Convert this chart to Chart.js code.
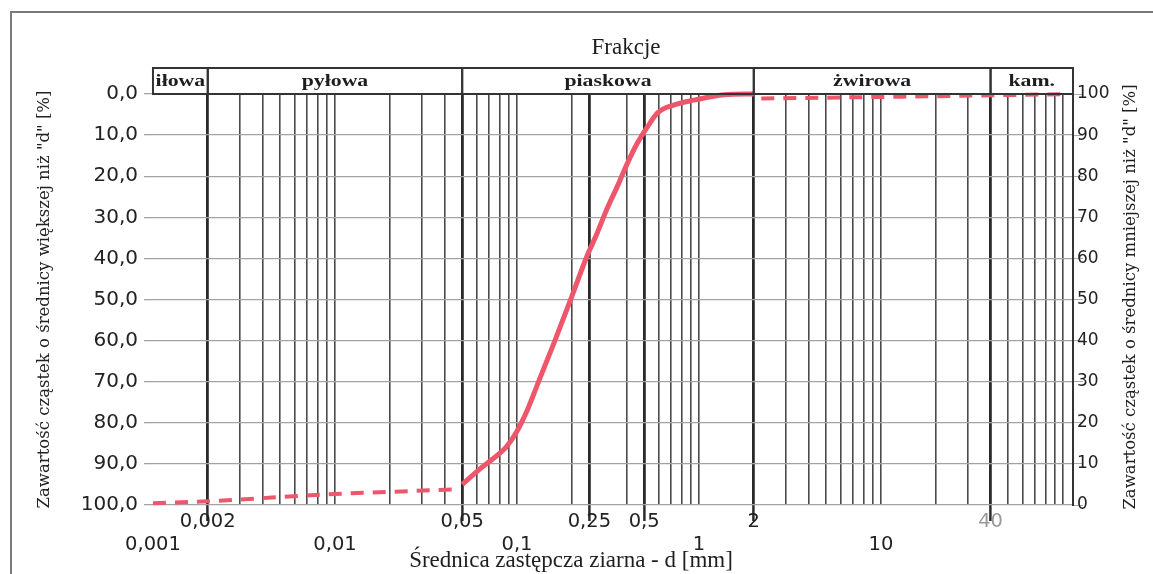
<!DOCTYPE html>
<html lang="pl">
<head>
<meta charset="utf-8">
<title>Krzywa uziarnienia</title>
<script src="https://cdn.jsdelivr.net/npm/chart.js@4.4.1/dist/chart.umd.min.js"></script>
<style>
  html, body { margin: 0; padding: 0; background: #fff; }
  canvas { display: block; }
</style>
</head>
<body>
<canvas id="chart" width="1153" height="574"></canvas>
<script>
// Krzywa uziarnienia - wartości odczytane z wykresu
// średnica d [mm] oraz zawartość cząstek mniejszych niż d [%]
const curveD       = [0.05, 0.0615, 0.0726, 0.0869, 0.0987, 0.1137, 0.1324, 0.1606, 0.1995, 0.2417, 0.2748, 0.312, 0.355, 0.403, 0.458, 0.521, 0.592, 0.726, 0.938, 1.377, 2.0];
const curvePassing = [5.0, 8.5, 11.0, 14.0, 17.5, 23.0, 30.4, 39.7, 50.6, 60.4, 66.0, 72.0, 77.4, 83.0, 88.0, 92.0, 95.4, 97.3, 98.5, 99.8, 100];

// przedłużenie (linia przerywana) - część drobna i gruba
const fineD        = [0.001, 0.002, 0.0045, 0.01, 0.02, 0.035, 0.046];
const finePassing  = [0.4, 0.9, 1.8, 2.7, 3.2, 3.6, 3.8];
const coarseD       = [2.2, 13, 100];
const coarsePassing = [98.9, 99.35, 99.95];

// pionowe linie siatki (skala logarytmiczna)
const gridD = [0.001, 0.002, 0.003, 0.004, 0.005, 0.006, 0.007, 0.008, 0.009,
               0.01, 0.02, 0.03, 0.04, 0.05, 0.06, 0.07, 0.08, 0.09,
               0.1, 0.2, 0.25, 0.4, 0.5, 0.6, 0.7, 0.8, 0.9,
               1, 2, 3, 4, 5, 6, 7, 8, 9,
               10, 20, 30, 40, 50, 60, 70, 80, 90, 100];
const boldD = [0.002, 0.05, 0.25, 0.5, 2, 40];

// opisy osi X - dwa wiersze
const upperTickD      = [0.002, 0.05, 0.25, 0.5, 2, 40];
const upperTickLabels = ['0,002', '0,05', '0,25', '0,5', '2', '40'];
const lowerTickD      = [0.001, 0.01, 0.1, 1, 10];
const lowerTickLabels = ['0,001', '0,01', '0,1', '1', '10'];

// frakcje
const fractionNames  = ['iłowa', 'pyłowa', 'piaskowa', 'żwirowa', 'kam.'];
const fractionBounds = [0.001, 0.002, 0.05, 2, 40];

const RED = 'rgb(238, 86, 108)';

const same = (a, b) => Math.abs(a - b) < b * 1e-6;
const isIn = (v, arr) => arr.some(b => same(v, b));
const toXY = (xs, ys) => xs.map((x, i) => ({ x: x, y: ys[i] }));

function tickLabel(v) {
    const u = upperTickD.findIndex(b => same(v, b));
    if (u >= 0) return [upperTickLabels[u], ''];
    const l = lowerTickD.findIndex(b => same(v, b));
    if (l >= 0) return ['', lowerTickLabels[l]];
    return '';
}

// nagłówek "Frakcje", ramka, tytuły osi
const frakcjePlugin = {
    id: 'frakcje',
    afterDraw(chart) {
        const { ctx, chartArea: a } = chart;
        const x = chart.scales.x;
        ctx.save();

        ctx.strokeStyle = '#7a7a7a';
        ctx.lineWidth = 2;
        ctx.beginPath();
        ctx.moveTo(11, 574);
        ctx.lineTo(11, 12);
        ctx.lineTo(1153, 12);
        ctx.stroke();

        ctx.fillStyle = '#1e1e1e';
        ctx.textAlign = 'center';
        ctx.textBaseline = 'middle';
        ctx.font = '23px "Liberation Serif"';
        ctx.fillText('Frakcje', 626, 48);

        const top = 68;
        const edges = fractionBounds.map(v => x.getPixelForValue(v)).concat(a.right);
        ctx.strokeStyle = '#333';
        ctx.lineWidth = 2;
        ctx.font = 'bold 17px "Liberation Serif"';
        fractionNames.forEach((name, i) => {
            const x0 = edges[i], x1 = edges[i + 1];
            ctx.strokeRect(x0, top, x1 - x0, a.top - top);
            ctx.save();
            ctx.translate((x0 + x1) / 2, (top + a.top) / 2 + 1);
            ctx.scale(1.28, 1);
            ctx.fillText(name, 0, 0);
            ctx.restore();
        });

        ctx.font = '23px "Liberation Serif"';
        ctx.fillText('Średnica zastępcza ziarna - d [mm]', 571, 561);

        ctx.save();
        ctx.translate(1131, 297);
        ctx.rotate(-Math.PI / 2);
        ctx.font = '16.5px "DejaVu Serif"';
        ctx.fillText('Zawartość cząstek o średnicy mniejszej niż "d" [%]', 0, 0);
        ctx.restore();

        ctx.restore();
    }
};

new Chart(document.getElementById('chart'), {
    type: 'line',
    data: {
        datasets: [
            {
                data: toXY(curveD, curvePassing),
                yAxisID: 'y2',
                borderColor: RED,
                borderWidth: 5,
                pointRadius: 0,
                cubicInterpolationMode: 'monotone',
                clip: 6
            },
            {
                data: toXY(fineD, finePassing),
                yAxisID: 'y2',
                borderColor: RED,
                borderWidth: 4,
                borderDash: [13, 9],
                pointRadius: 0,
                clip: 6
            },
            {
                data: toXY(coarseD, coarsePassing),
                yAxisID: 'y2',
                borderColor: RED,
                borderWidth: 4,
                borderDash: [13, 9],
                pointRadius: 0,
                clip: 6
            }
        ]
    },
    options: {
        responsive: false,
        animation: false,
        layout: { padding: { top: 94, left: 0, right: 0, bottom: 0 } },
        plugins: {
            legend: { display: false },
            tooltip: { enabled: false }
        },
        scales: {
            x: {
                type: 'logarithmic',
                position: 'bottom',
                min: 0.000963,
                max: 113.5,
                afterBuildTicks: s => { s.ticks = gridD.map(v => ({ value: v })); },
                afterFit: s => { s.height = 69; },
                border: { display: false },
                grid: {
                    color: c => same(c.tick.value, 0.001) ? 'rgba(0,0,0,0)' : (isIn(c.tick.value, boldD) ? '#2a2a2a' : '#4a4a4a'),
                    lineWidth: c => isIn(c.tick.value, boldD) ? 2.8 : 1.6,
                    tickLength: 16,
                    tickColor: c => isIn(c.tick.value, boldD) ? '#2a2a2a' : 'rgba(0,0,0,0)',
                    tickWidth: 2.5
                },
                ticks: {
                    autoSkip: false,
                    maxRotation: 0,
                    minRotation: 0,
                    padding: -11,
                    font: { family: 'DejaVu Sans', size: 19.5, lineHeight: 1.2 },
                    color: c => same(c.tick.value, 40) ? '#9a9a9a' : '#222',
                    callback: v => tickLabel(v)
                }
            },
            y: {
                type: 'linear',
                position: 'left',
                reverse: true,
                min: 0,
                max: 100,
                afterFit: s => { s.width = 150; },
                border: { display: false },
                grid: { color: '#a3a3a3', lineWidth: 1.3, tickLength: 6 },
                ticks: {
                    stepSize: 10,
                    padding: 6,
                    color: '#222',
                    font: { family: 'DejaVu Sans', size: 20 },
                    callback: v => v.toFixed(1).replace('.', ',')
                },
                title: {
                    display: true,
                    text: 'Zawartość cząstek o średnicy większej niż "d" [%]',
                    color: '#222',
                    font: { family: 'DejaVu Serif', size: 16.5 },
                    padding: { top: 35, bottom: 0 }
                }
            },
            y2: {
                type: 'linear',
                position: 'right',
                min: 0,
                max: 100,
                afterFit: s => { s.width = 80; },
                border: { display: true, color: '#333', width: 2 },
                grid: { drawOnChartArea: false, color: '#a8a8a8', tickLength: 10 },
                ticks: {
                    stepSize: 10,
                    padding: -6,
                    color: '#222',
                    font: { family: 'DejaVu Sans', size: 17 }
                }
            }
        }
    },
    plugins: [frakcjePlugin]
});
</script>
</body>
</html>
